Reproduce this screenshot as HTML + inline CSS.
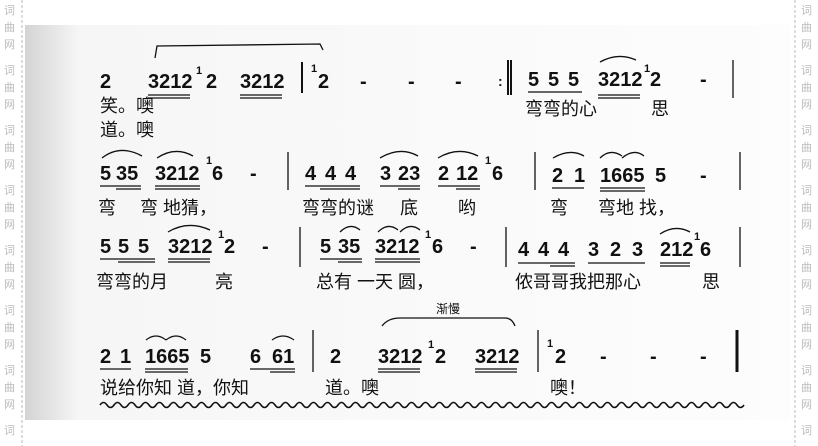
<!DOCTYPE html>
<html><head><meta charset="utf-8"><style>
html,body{margin:0;padding:0;background:#fff;}
body{width:818px;height:446px;overflow:hidden;position:relative;}
svg{position:absolute;left:0;top:0;}
.n{font-family:"Liberation Sans",sans-serif;font-weight:bold;font-size:20px;fill:#111;}
.l{font-family:"Liberation Sans","Noto Sans CJK SC",sans-serif;font-size:18px;fill:#111;}
.w{font-family:"Noto Sans CJK SC",sans-serif;font-size:11px;fill:#bbb;}
.s{font-family:"Liberation Sans",sans-serif;font-weight:bold;font-size:11px;fill:#111;}
</style></head><body>
<svg width="818" height="446" viewBox="0 0 818 446" xmlns="http://www.w3.org/2000/svg">
<defs>
<linearGradient id="g" x1="0" x2="1">
<stop offset="0" stop-color="#d4d4d4"/><stop offset="0.025" stop-color="#e0e0e0"/><stop offset="0.07" stop-color="#f6f6f6"/><stop offset="1" stop-color="#fdfdfd"/>
</linearGradient>
</defs>
<rect x="25" y="25" width="765" height="395" fill="url(#g)"/>
<line x1="22" y1="0" x2="22" y2="446" stroke="#bbb" stroke-dasharray="3,2"/>
<line x1="795" y1="0" x2="795" y2="446" stroke="#bbb" stroke-dasharray="3,2"/>
<g class="w">
<text x="4" y="14">词</text><text x="4" y="31">曲</text><text x="4" y="48">网</text>
<text x="4" y="74">词</text><text x="4" y="91">曲</text><text x="4" y="108">网</text>
<text x="4" y="134">词</text><text x="4" y="151">曲</text><text x="4" y="168">网</text>
<text x="4" y="194">词</text><text x="4" y="211">曲</text><text x="4" y="228">网</text>
<text x="4" y="254">词</text><text x="4" y="271">曲</text><text x="4" y="288">网</text>
<text x="4" y="314">词</text><text x="4" y="331">曲</text><text x="4" y="348">网</text>
<text x="4" y="374">词</text><text x="4" y="391">曲</text><text x="4" y="408">网</text>
<text x="4" y="434">词</text>
<text x="801" y="14">词</text><text x="801" y="31">曲</text><text x="801" y="48">网</text>
<text x="801" y="74">词</text><text x="801" y="91">曲</text><text x="801" y="108">网</text>
<text x="801" y="134">词</text><text x="801" y="151">曲</text><text x="801" y="168">网</text>
<text x="801" y="194">词</text><text x="801" y="211">曲</text><text x="801" y="228">网</text>
<text x="801" y="254">词</text><text x="801" y="271">曲</text><text x="801" y="288">网</text>
<text x="801" y="314">词</text><text x="801" y="331">曲</text><text x="801" y="348">网</text>
<text x="801" y="374">词</text><text x="801" y="391">曲</text><text x="801" y="408">网</text>
<text x="801" y="434">词</text>
</g>
<g stroke="#111" fill="none" stroke-width="1.3">
<path d="M155 58 L157 46 L320 44 L323 50"/>
<line x1="148" y1="95" x2="190" y2="95"/><line x1="148" y1="98" x2="190" y2="98"/>
<line x1="240" y1="95" x2="282" y2="95"/><line x1="240" y1="98" x2="282" y2="98"/>
<line x1="302" y1="62" x2="302" y2="93" stroke-width="2"/>
<line x1="508" y1="60" x2="508" y2="95" stroke-width="2"/><line x1="511" y1="60" x2="511" y2="95" stroke-width="2"/>
<line x1="528" y1="92" x2="582" y2="92"/>
<line x1="598" y1="95" x2="640" y2="95"/><line x1="598" y1="98" x2="640" y2="98"/>
<path d="M600 62 Q618 52 636 60"/>
<line x1="733" y1="60" x2="733" y2="98"/>
<line x1="100" y1="186" x2="141" y2="186"/><line x1="116" y1="189" x2="141" y2="189"/>
<line x1="155" y1="186" x2="200" y2="186"/><line x1="155" y1="189" x2="200" y2="189"/>
<path d="M102 158 Q120 144 142 156"/><path d="M157 158 Q175 146 193 156"/>
<line x1="288" y1="152" x2="288" y2="190"/>
<line x1="305" y1="186" x2="360" y2="186"/><line x1="320" y1="189" x2="360" y2="189"/>
<line x1="380" y1="186" x2="420" y2="186"/><line x1="398" y1="189" x2="420" y2="189"/>
<line x1="438" y1="186" x2="480" y2="186"/><line x1="456" y1="189" x2="480" y2="189"/>
<path d="M380 158 Q400 146 418 156"/><path d="M438 158 Q458 146 478 156"/>
<line x1="535" y1="152" x2="535" y2="190"/>
<line x1="552" y1="188" x2="584" y2="188"/>
<line x1="600" y1="188" x2="645" y2="188"/><line x1="600" y1="191" x2="645" y2="191"/>
<path d="M553 158 Q570 148 584 156"/><path d="M600 158 Q610 148 622 156"/><path d="M622 158 Q634 148 644 156"/>
<line x1="740" y1="152" x2="740" y2="190"/>
<line x1="100" y1="259" x2="155" y2="259"/><line x1="118" y1="262" x2="155" y2="262"/>
<line x1="168" y1="259" x2="210" y2="259"/><line x1="168" y1="262" x2="210" y2="262"/>
<path d="M168 232 Q188 220 210 230"/>
<line x1="300" y1="227" x2="300" y2="267"/>
<line x1="320" y1="259" x2="362" y2="259"/><line x1="338" y1="262" x2="362" y2="262"/>
<line x1="375" y1="259" x2="420" y2="259"/><line x1="375" y1="262" x2="420" y2="262"/>
<path d="M340 232 Q350 222 360 230"/><path d="M378 232 Q388 222 398 230"/><path d="M400 232 Q410 222 420 230"/>
<line x1="506" y1="227" x2="506" y2="267"/>
<line x1="518" y1="263" x2="575" y2="263"/><line x1="550" y1="266" x2="575" y2="266"/>
<line x1="588" y1="263" x2="645" y2="263"/>
<line x1="660" y1="263" x2="690" y2="263"/><line x1="660" y1="266" x2="690" y2="266"/>
<path d="M660 234 Q675 224 690 232"/>
<line x1="740" y1="227" x2="740" y2="267"/>
<line x1="100" y1="369" x2="131" y2="369"/>
<line x1="145" y1="369" x2="188" y2="369"/><line x1="145" y1="372" x2="188" y2="372"/>
<path d="M146 340 Q156 332 166 340"/><path d="M166 340 Q176 332 186 340"/>
<line x1="250" y1="369" x2="295" y2="369"/><line x1="270" y1="372" x2="295" y2="372"/>
<path d="M272 340 Q283 332 294 340"/>
<line x1="313" y1="330" x2="313" y2="372"/>
<path d="M382 326 Q388 318 400 318 L505 318 Q512 318 515 326"/>
<line x1="378" y1="369" x2="420" y2="369"/><line x1="378" y1="372" x2="420" y2="372"/>
<line x1="475" y1="369" x2="517" y2="369"/><line x1="475" y1="372" x2="517" y2="372"/>
<line x1="538" y1="330" x2="538" y2="372"/>
<line x1="737" y1="330" x2="737" y2="372" stroke-width="3"/>
<path d="M100 405 q3.5 -5 7 0 t7 0 t7 0 t7 0 t7 0 t7 0 t7 0 t7 0 t7 0 t7 0 t7 0 t7 0 t7 0 t7 0 t7 0 t7 0 t7 0 t7 0 t7 0 t7 0 t7 0 t7 0 t7 0 t7 0 t7 0 t7 0 t7 0 t7 0 t7 0 t7 0 t7 0 t7 0 t7 0 t7 0 t7 0 t7 0 t7 0 t7 0 t7 0 t7 0 t7 0 t7 0 t7 0 t7 0 t7 0 t7 0 t7 0 t7 0 t7 0 t7 0 t7 0 t7 0 t7 0 t7 0 t7 0 t7 0 t7 0 t7 0 t7 0 t7 0 t7 0 t7 0 t7 0 t7 0 t7 0 t7 0 t7 0 t7 0 t7 0 t7 0 t7 0 t7 0 t7 0 t7 0 t7 0 t7 0 t7 0 t7 0 t7 0 t7 0 t7 0 t7 0 t7 0 t7 0 t7 0 t7 0 t7 0 t7 0 t7 0 t7 0 t7 0 t7 0" stroke-width="1.6"/>
</g>
<g class="n">
<text x="100" y="88">2</text><text x="148" y="88">3212</text><text x="206" y="88">2</text><text x="240" y="88">3212</text>
<text x="318" y="88">2</text><text x="360" y="88">-</text><text x="408" y="88">-</text><text x="455" y="88">-</text>
<text x="498" y="86" font-size="14">:</text>
<text x="528" y="86">5</text><text x="548" y="86">5</text><text x="568" y="86">5</text><text x="598" y="86">3212</text><text x="650" y="86">2</text><text x="700" y="86">-</text>
<text x="100" y="180">5</text><text x="116" y="180">35</text><text x="155" y="180">3212</text><text x="212" y="180">6</text><text x="250" y="180">-</text>
<text x="305" y="180">4</text><text x="325" y="180">4</text><text x="345" y="180">4</text><text x="380" y="180">3</text><text x="398" y="180">23</text><text x="438" y="180">2</text><text x="456" y="180">12</text><text x="492" y="180">6</text>
<text x="552" y="182">2</text><text x="574" y="182">1</text><text x="600" y="182">1665</text><text x="655" y="182">5</text><text x="700" y="182">-</text>
<text x="100" y="253">5</text><text x="118" y="253">5</text><text x="138" y="253">5</text><text x="168" y="253">3212</text><text x="224" y="253">2</text><text x="262" y="253">-</text>
<text x="320" y="253">5</text><text x="338" y="253">35</text><text x="375" y="253">3212</text><text x="432" y="253">6</text><text x="470" y="253">-</text>
<text x="518" y="256">4</text><text x="538" y="256">4</text><text x="558" y="256">4</text><text x="588" y="256">3</text><text x="610" y="256">2</text><text x="632" y="256">3</text><text x="660" y="256">212</text><text x="700" y="256">6</text>
<text x="100" y="363">2</text><text x="120" y="363">1</text><text x="145" y="363">1665</text><text x="200" y="363">5</text><text x="250" y="363">6</text><text x="272" y="363">61</text>
<text x="330" y="363">2</text><text x="378" y="363">3212</text><text x="435" y="363">2</text><text x="475" y="363">3212</text>
<text x="555" y="363">2</text><text x="600" y="363">-</text><text x="650" y="363">-</text><text x="700" y="363">-</text>
</g>
<g class="s">
<text x="196" y="74">1</text><text x="311" y="72">1</text><text x="644" y="72">1</text><text x="206" y="164">1</text><text x="485" y="164">1</text>
<text x="218" y="238">1</text><text x="425" y="238">1</text><text x="694" y="240">1</text><text x="428" y="348">1</text><text x="547" y="347">1</text>
</g>
<g class="l">
<text x="100" y="112">笑。噢</text><text x="100" y="136">道。噢</text>
<text x="525" y="115">弯弯的心</text><text x="651" y="115">思</text>
<text x="98" y="214">弯</text><text x="140" y="214">弯 地猜，</text>
<text x="302" y="214">弯弯的谜</text><text x="400" y="214">底</text><text x="458" y="214">哟</text>
<text x="550" y="214">弯</text><text x="598" y="214">弯地 找，</text>
<text x="96" y="288">弯弯的月</text><text x="215" y="288">亮</text>
<text x="316" y="288">总有 一天 圆，</text>
<text x="515" y="288">侬哥哥我把那心</text><text x="702" y="288">思</text>
<text x="100" y="394">说给你知 道，你知</text><text x="325" y="394">道。噢</text>
<text x="550" y="394">噢！</text>
<text x="436" y="313" font-size="12">渐慢</text>
</g>
</svg>
</body></html>
